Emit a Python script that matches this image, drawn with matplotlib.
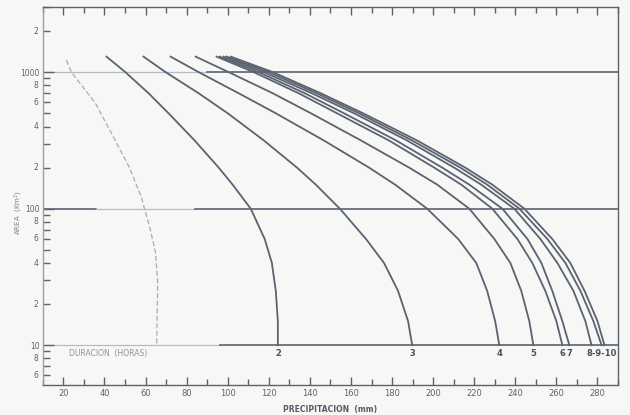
import numpy as np
import matplotlib.pyplot as plt
from matplotlib.ticker import FixedLocator, NullFormatter

# duration curves: area (km2) vs precipitation (mm)
area1 = [1225, 1000, 593, 357, 200, 121, 69.5, 47.2, 28.5, 10]
p1 = [21.5, 23.9, 35.6, 43.4, 52.2, 58.0, 62.4, 64.9, 65.9, 65.4]

area = [1300, 1000, 700, 500, 316, 200, 150, 100, 60, 40, 25, 15, 10]
p2 = [41.0, 50.2, 61.5, 71.2, 83.9, 95.6, 102.4, 111.2, 118.0, 121.5, 123.4, 124.4, 124.4]
p3 = [59.0, 69.8, 85.9, 100.0, 117.6, 133.7, 142.9, 154.6, 167.3, 176.1, 182.9, 187.8, 189.8]
p4 = [72.2, 85.9, 105.4, 123.4, 146.8, 168.8, 181.5, 197.1, 212.2, 221.0, 226.3, 230.2, 232.2]
p5 = [84.4, 100.5, 122.0, 140.5, 164.9, 188.3, 202.0, 217.6, 229.8, 237.6, 242.9, 246.8, 248.8]
p6 = [94.6, 112.7, 134.6, 153.2, 178.5, 200.5, 213.7, 228.8, 241.0, 248.3, 254.6, 260.0, 262.9]
p7 = [96.1, 115.1, 137.6, 156.6, 182.0, 204.4, 217.6, 233.7, 245.9, 252.7, 258.0, 262.9, 266.3]
p8 = [98.0, 117.6, 141.0, 161.5, 187.3, 210.2, 223.4, 239.5, 252.2, 260.5, 268.3, 274.1, 277.1]
p9 = [99.5, 120.0, 143.4, 163.9, 189.8, 213.2, 226.3, 242.0, 255.6, 264.4, 271.7, 278.0, 282.0]
p10 = [101.5, 122.0, 145.4, 165.9, 192.2, 215.6, 228.8, 244.4, 258.0, 266.8, 273.7, 280.0, 283.4]
curve_labels = ["2", "3", "4", "5", "6", "7", "8-9-10"]

x_major = [20, 40, 60, 80, 100, 120, 140, 160, 180, 200, 220, 240, 260, 280]
y_minor_labels = {2: "2", 4: "4", 6: "6", 8: "8"}

ink = "#5b6272"
faint = "#b4bcc6"
fig = plt.figure(figsize=(6.3, 4.15), dpi=100, facecolor="#f7f7f5")
ax = fig.add_axes([0.068, 0.072, 0.913, 0.911])
ax.set_facecolor("#f7f7f5")
ax.set_yscale("log")
ax.set_xlim(10, 290)
ax.set_ylim(5.1, 3000)

# decade lines (the scan has faded stretches)
def hline(y, x0, x1, color, lw):
    ax.axhline(y, xmin=(x0 - 10) / 280, xmax=(x1 - 10) / 280, color=color, lw=lw, zorder=1)

hline(1000, 10, 90, faint, 0.9)
hline(1000, 90, 290, ink, 1.2)
hline(100, 10, 36, ink, 1.2)
hline(100, 36, 84, faint, 0.9)
hline(100, 84, 290, ink, 1.2)
hline(10, 10, 96, faint, 0.9)
hline(10, 96, 290, ink, 1.2)

ax.plot(p1, area1, color="#a8acb4", lw=0.9, ls=(0, (4, 2)))
for p in [p2, p3, p4, p5, p6, p7, p8, p9, p10]:
    ax.plot(p, area, color=ink, lw=1.3)

ends = [p2[-1], p3[-1], p4[-1], p5[-1], p6[-1], p7[-1], p9[-1]]
for x, lab in zip(ends, curve_labels):
    ax.text(x, 9.4, lab, ha="center", va="top", fontsize=6, fontweight="bold", color="#4a505c")
ax.text(42, 9.4, "DURACION  (HORAS)", ha="center", va="top", fontsize=5.5, color="#8a93a0")

# ticks
ax.xaxis.set_major_locator(FixedLocator(x_major))
ax.xaxis.set_minor_locator(FixedLocator(np.arange(10, 291, 10)))
ax.set_xticklabels([str(v) for v in x_major])
ax.tick_params(axis="x", which="both", direction="in", top=True, labelsize=6, colors=ink, pad=3)
ax.tick_params(axis="x", which="major", length=6, width=1)
ax.tick_params(axis="x", which="minor", length=4, width=1)

yminor = [m * 10 ** e for e in range(0, 4) for m in range(2, 10)]
ax.yaxis.set_major_locator(FixedLocator([10, 100, 1000]))
ax.yaxis.set_minor_locator(FixedLocator(yminor))
ax.set_yticklabels(["10", "100", "1000"])
ax.yaxis.set_minor_formatter(NullFormatter())
ax.tick_params(axis="y", which="both", direction="in", labelsize=5.5, colors=ink, pad=2)
ax.tick_params(axis="y", which="major", length=8, width=1)
ax.tick_params(axis="y", which="minor", length=5, width=1)
for v in yminor:
    m = int(round(v / 10 ** np.floor(np.log10(v))))
    if m in y_minor_labels and 5.1 < v < 3000:
        ax.text(-0.008, v, y_minor_labels[m], transform=ax.get_yaxis_transform(),
                ha="right", va="center", fontsize=5.5, color=ink)

for s in ax.spines.values():
    s.set_color(ink)
    s.set_linewidth(1)
ax.spines["left"].set_color("#9aa0aa")

ax.set_xlabel("PRECIPITACION  (mm)", fontsize=5.5, fontweight="bold", color="#555a66", labelpad=5)
fig.text(0.03, 0.487, "AREA  (Km$^2$)", rotation=90, fontsize=5, color="#7a8290",
         ha="center", va="center")

fig.savefig("out.png", dpi=100, facecolor=fig.get_facecolor())
